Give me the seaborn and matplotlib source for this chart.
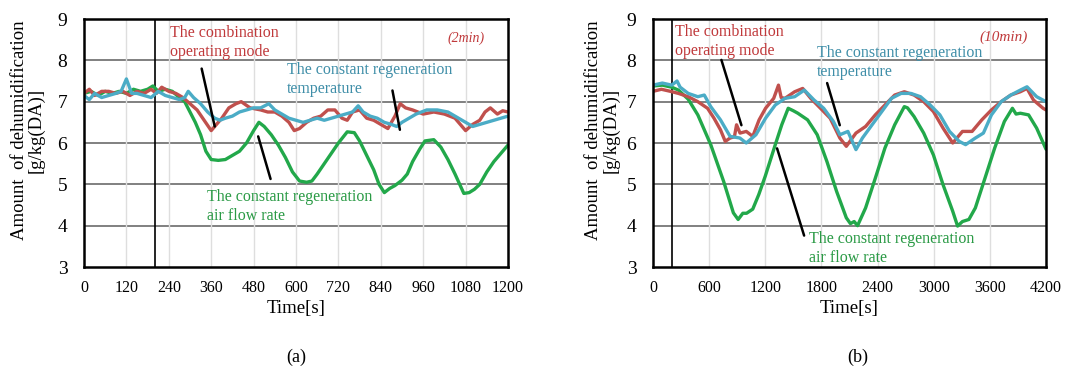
import numpy as np
import pandas as pd
import matplotlib
matplotlib.use("Agg")
import matplotlib.pyplot as plt
import seaborn as sns

sns.set_style("white")
plt.rcParams['font.family'] = ['Liberation Serif', 'DejaVu Serif']
plt.rcParams['text.color'] = 'black'
plt.rcParams['axes.labelcolor'] = 'black'
plt.rcParams['xtick.color'] = 'black'
plt.rcParams['ytick.color'] = 'black'

# ---------------- Data: panel (a) 2 min ----------------
a_green_t = [0, 20, 40, 60, 80, 100, 120, 140, 160, 180, 195, 210, 230, 250, 270, 285, 300, 315, 330, 345,
             360, 380, 400, 420, 440, 460, 480, 495, 510, 530, 550, 570, 590, 610, 630, 645, 660, 680, 700, 720,
             745, 765, 780, 800, 820, 835, 850, 865, 880, 900, 915, 930, 950, 965, 990, 1010, 1030, 1050, 1075, 1090,
             1105, 1120, 1140, 1160, 1180, 1200]
a_green_v = [7.2, 7.25, 7.15, 7.25, 7.2, 7.25, 7.2, 7.3, 7.25, 7.3, 7.38, 7.25, 7.3, 7.25, 7.1, 7.0, 6.75, 6.5, 6.2, 5.8,
             5.6, 5.58, 5.6, 5.7, 5.8, 6.0, 6.3, 6.5, 6.4, 6.2, 5.95, 5.65, 5.3, 5.08, 5.05, 5.08, 5.25, 5.5, 5.75, 6.0,
             6.27, 6.25, 6.05, 5.7, 5.35, 5.0, 4.8, 4.9, 4.97, 5.1, 5.25, 5.55, 5.85, 6.05, 6.08, 5.9, 5.6, 5.25, 4.78, 4.8,
             4.88, 5.0, 5.3, 5.55, 5.75, 5.95]

a_red_t = [0, 15, 30, 50, 70, 90, 110, 130, 150, 170, 190, 205, 220, 240, 260, 280, 300, 320, 340, 360,
           375, 390, 410, 430, 445, 470, 500, 520, 540, 560, 580, 595, 610, 630, 650, 670, 690, 710, 730, 745,
           760, 780, 800, 820, 840, 860, 880, 895, 910, 930, 960, 990, 1020, 1050, 1065, 1080, 1100, 1120, 1135, 1150,
           1170, 1185, 1200]
a_red_v = [7.2, 7.3, 7.15, 7.25, 7.25, 7.2, 7.25, 7.15, 7.25, 7.2, 7.3, 7.2, 7.35, 7.25, 7.2, 7.1, 6.95, 6.8, 6.55, 6.3,
           6.45, 6.6, 6.85, 6.95, 7.0, 6.85, 6.8, 6.75, 6.75, 6.65, 6.5, 6.3, 6.35, 6.5, 6.6, 6.65, 6.8, 6.8, 6.6, 6.55,
           6.75, 6.8, 6.6, 6.55, 6.45, 6.35, 6.65, 6.95, 6.85, 6.8, 6.7, 6.75, 6.7, 6.6, 6.45, 6.3, 6.45, 6.55, 6.75, 6.85,
           6.7, 6.78, 6.75]

a_blue_t = [0, 15, 30, 50, 70, 90, 105, 120, 135, 150, 170, 190, 210, 230, 250, 270, 285, 295, 310, 330,
            350, 370, 385, 400, 420, 440, 460, 480, 500, 523, 540, 560, 580, 600, 620, 640, 660, 680, 700, 720,
            740, 760, 776, 790, 810, 830, 850, 870, 885, 900, 920, 940, 970, 1000, 1030, 1060, 1080, 1100, 1120, 1140,
            1160, 1180, 1200]
a_blue_v = [7.15, 7.05, 7.2, 7.1, 7.15, 7.2, 7.25, 7.55, 7.2, 7.2, 7.15, 7.1, 7.25, 7.15, 7.1, 7.05, 7.1, 7.25, 7.1, 6.95,
            6.75, 6.6, 6.55, 6.6, 6.65, 6.75, 6.8, 6.85, 6.85, 6.95, 6.8, 6.7, 6.6, 6.55, 6.5, 6.55, 6.6, 6.55, 6.6, 6.65,
            6.7, 6.75, 6.9, 6.75, 6.65, 6.6, 6.5, 6.45, 6.4, 6.5, 6.6, 6.7, 6.8, 6.8, 6.75, 6.6, 6.5, 6.4, 6.45, 6.5,
            6.55, 6.6, 6.65]

# ---------------- Data: panel (b) 10 min ----------------
b_green_t = [0, 100, 200, 272, 376, 479, 617, 755, 859, 910, 960, 1000, 1066, 1130, 1200, 1307, 1376, 1445, 1500, 1548,
             1652, 1755, 1859, 1962, 2066, 2110, 2150, 2186, 2272, 2376, 2479, 2583, 2686, 2720, 2790, 2893, 2997, 3100, 3203, 3255,
             3307, 3376, 3445, 3548, 3652, 3755, 3841, 3880, 3926, 4014, 4100, 4200]
b_green_v = [7.38, 7.4, 7.35, 7.28, 7.06, 6.68, 5.96, 5.07, 4.31, 4.15, 4.3, 4.3, 4.4, 4.75, 5.2, 5.96, 6.44, 6.84, 6.78, 6.72,
             6.56, 6.2, 5.55, 4.83, 4.19, 4.05, 4.1, 4.0, 4.43, 5.15, 5.88, 6.44, 6.88, 6.85, 6.64, 6.24, 5.71, 4.99, 4.35, 3.99,
             4.1, 4.15, 4.43, 5.15, 5.88, 6.52, 6.84, 6.7, 6.72, 6.68, 6.36, 5.85]

b_red_t = [0, 90, 186, 272, 376, 479, 583, 652, 721, 772, 824, 870, 893, 930, 997, 1066, 1134, 1203, 1290, 1341,
           1370, 1410, 1514, 1600, 1686, 1790, 1893, 1997, 2066, 2169, 2272, 2376, 2479, 2583, 2686, 2790, 2893, 2997, 3100, 3203,
           3307, 3410, 3514, 3617, 3721, 3824, 3926, 3997, 4066, 4169, 4200]
b_red_v = [7.25, 7.3, 7.25, 7.2, 7.12, 7.0, 6.84, 6.6, 6.32, 6.04, 6.12, 6.15, 6.44, 6.24, 6.28, 6.16, 6.56, 6.84, 7.08, 7.4,
           7.1, 7.08, 7.24, 7.32, 7.08, 6.84, 6.6, 6.12, 5.92, 6.24, 6.4, 6.68, 6.92, 7.16, 7.24, 7.16, 7.0, 6.76, 6.36, 6.0,
           6.28, 6.28, 6.56, 6.8, 7.0, 7.16, 7.24, 7.32, 7.04, 6.84, 6.8]

b_blue_t = [0, 100, 200, 257, 290, 376, 479, 548, 617, 721, 824, 928, 997, 1100, 1203, 1307, 1410, 1514, 1617, 1721,
            1824, 1928, 1997, 2083, 2169, 2238, 2341, 2445, 2548, 2652, 2755, 2859, 2962, 3066, 3169, 3272, 3341, 3445, 3531, 3617,
            3721, 3824, 3926, 3997, 4100, 4200]
b_blue_v = [7.4, 7.45, 7.4, 7.5, 7.35, 7.2, 7.12, 7.16, 6.88, 6.56, 6.16, 6.12, 6.0, 6.2, 6.6, 6.92, 7.08, 7.12, 7.28, 7.04,
            6.84, 6.52, 6.2, 6.28, 5.84, 6.12, 6.44, 6.76, 7.08, 7.2, 7.2, 7.12, 6.92, 6.68, 6.28, 6.04, 5.96, 6.12, 6.24, 6.68,
            7.0, 7.16, 7.28, 7.36, 7.12, 7.0]

a_xticks = [0, 120, 240, 360, 480, 600, 720, 840, 960, 1080, 1200]
b_xticks = [0, 600, 1200, 1800, 2400, 3000, 3600, 4200]
yticks = [3, 4, 5, 6, 7, 8, 9]

series_names = ["The combination\noperating mode",
                "The constant regeneration\ntemperature",
                "The constant regeneration\nair flow rate"]

RED = "#c0504d"
BLUE = "#4bacc6"
GREEN = "#22a84a"
RED_T = "#c0393b"
BLUE_T = "#3f8ea8"
GREEN_T = "#2a9a45"

fig = plt.figure(figsize=(10.8, 3.69), dpi=100)
ax1 = fig.add_axes([84 / 1080, 1 - 267 / 369, 424 / 1080, 248 / 369])
ax2 = fig.add_axes([653 / 1080, 1 - 267 / 369, 393 / 1080, 248 / 369])


def draw(ax, gt, gv, rt, rv, bt, bv, xticks, xmax, ylab_x):
    sns.lineplot(x=gt, y=gv, ax=ax, color=GREEN, lw=2.4, estimator=None, sort=False)
    sns.lineplot(x=rt, y=rv, ax=ax, color=RED, lw=2.4, estimator=None, sort=False)
    sns.lineplot(x=bt, y=bv, ax=ax, color=BLUE, lw=2.4, estimator=None, sort=False)
    ax.set_xlim(0, xmax)
    ax.set_ylim(3, 9)
    ax.set_xticks(xticks)
    ax.set_yticks(yticks)
    ax.set_xticklabels([str(t) for t in xticks], fontsize=11.5, color="black")
    ax.set_yticklabels([str(y) for y in yticks], fontsize=14, color="black")
    for y in yticks[1:-1]:
        ax.axhline(y, color="#808080", lw=1.4, zorder=0)
    for x in xticks[1:-1]:
        ax.axvline(x, color="#dedede", lw=1.0, zorder=0)
    ax.axvline(200, color="black", lw=1.2, zorder=1)
    for s in ax.spines.values():
        s.set_color("black")
        s.set_linewidth(1.8)
        s.set_visible(True)
    ax.tick_params(axis="x", direction="in", length=4, width=1, color="#555555", pad=9)
    ax.tick_params(axis="y", length=0, pad=12)
    ax.set_xlabel("Time[s]", fontsize=13.5, labelpad=3, color="black")
    ax.set_ylabel("Amount  of dehumidification\n[g/kg(DA)]", fontsize=13.5, linespacing=1.0, color="black")
    ax.yaxis.set_label_coords(ylab_x, 0.55)


draw(ax1, a_green_t, a_green_v, a_red_t, a_red_v, a_blue_t, a_blue_v, a_xticks, 1200, -0.092)
draw(ax2, b_green_t, b_green_v, b_red_t, b_red_v, b_blue_t, b_blue_v, b_xticks, 4200, -0.085)

fs = 11.5
ls = 1.25
# annotations panel (a)
ax1.text(243, 8.43, series_names[0], color=RED_T, fontsize=fs, va="center", ha="left", linespacing=ls)
ax1.text(575, 7.54, series_names[1], color=BLUE_T, fontsize=fs, va="center", ha="left", linespacing=ls)
ax1.text(347, 4.47, series_names[2], color=GREEN_T, fontsize=fs, va="center", ha="left", linespacing=ls)
ax1.text(1082, 8.53, "(2min)", color=RED_T, fontsize=10, style="italic", ha="center", va="center")
ax1.plot([333, 370], [7.8, 6.4], color="black", lw=1.8)
ax1.plot([493, 528], [6.16, 5.13], color="black", lw=1.8)
ax1.plot([873, 894], [7.27, 6.32], color="black", lw=1.8)

# annotations panel (b)
ax2.text(232, 8.45, series_names[0], color=RED_T, fontsize=fs, va="center", ha="left", linespacing=ls)
ax2.text(1754, 7.95, series_names[1], color=BLUE_T, fontsize=fs, va="center", ha="left", linespacing=ls)
ax2.text(1668, 3.45, series_names[2], color=GREEN_T, fontsize=fs, va="center", ha="left", linespacing=ls)
ax2.text(3743, 8.55, "(10min)", color=RED_T, fontsize=11, style="italic", ha="center", va="center")
ax2.plot([731, 945], [8.01, 6.43], color="black", lw=1.8)
ax2.plot([1861, 1996], [7.45, 6.43], color="black", lw=1.8)
ax2.plot([1326, 1615], [5.87, 3.76], color="black", lw=1.8)

fig.text(296 / 1080, 1 - 357 / 369, "(a)", fontsize=13, ha="center", va="center", color="black")
fig.text(858 / 1080, 1 - 357 / 369, "(b)", fontsize=13, ha="center", va="center", color="black")

fig.savefig("out.png", dpi=100, facecolor="white")
